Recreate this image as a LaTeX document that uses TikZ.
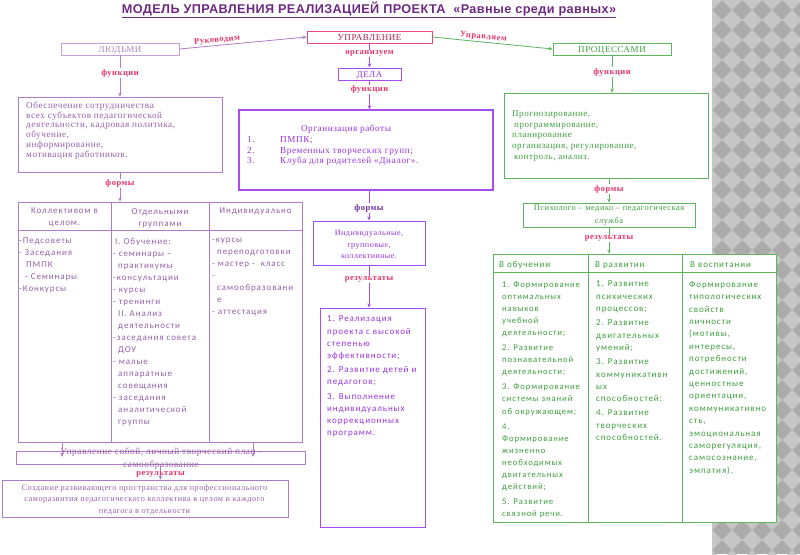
\documentclass[tikz,border=0pt]{standalone}
\usepackage{fontspec}
\setmainfont{Liberation Serif}
\newfontfamily\fser[LetterSpace=6]{Liberation Serif}
\newfontfamily\fcal[LetterSpace=10]{Carlito}
\newfontfamily\fari[LetterSpace=3]{Liberation Sans}
\usetikzlibrary{arrows.meta,fit}
\definecolor{ctitle}{HTML}{6E2A80}
\definecolor{cpink}{HTML}{E8336A}
\definecolor{cupr}{HTML}{E8467C}
\definecolor{cuprt}{HTML}{A81E4E}
\definecolor{lpb}{HTML}{C8A0D8}
\definecolor{lpt}{HTML}{A888B8}
\definecolor{pb}{HTML}{B07CC6}
\definecolor{ptx}{HTML}{9560AA}
\definecolor{vb}{HTML}{A64DF0}
\definecolor{vt}{HTML}{9A34E0}
\definecolor{vform}{HTML}{7030A0}
\definecolor{gb}{HTML}{5DB55D}
\definecolor{gt}{HTML}{3E9E3E}
\definecolor{bgd}{HTML}{ABABAB}
\definecolor{bgl}{HTML}{C6C6C6}
\begin{document}
\begin{tikzpicture}[x=1pt,y=-1pt,
  box/.style={draw, inner sep=0pt, line width=0.8pt},
  lab/.style={font=\fser\bfseries\fontsize{8.5}{9}\selectfont, text=cpink, fill=white, inner sep=0.8pt},
  arr/.style={line width=0.8pt, -{Stealth[length=4pt,width=3.5pt]}},
  stxt/.style={font=\fser\fontsize{9.2}{9.8}\selectfont, align=left, inner sep=0pt, anchor=north west},
  boxtxt/.style={font=\fser\fontsize{9}{10}\selectfont, inner sep=0pt, yshift=-1pt},
]
\useasboundingbox (0,0) rectangle (800,554);
\fill[white] (0,0) rectangle (800,554);
\begin{scope}
\clip (712,0) rectangle (800,554);
\fill[bgd] (712,0) rectangle (800,554);
\foreach \i in {0,...,5}{\foreach \j in {0,...,28}{
  \fill[bgl] ({702+20*\i},{20*\j}) -- ({712+20*\i},{20*\j-10}) -- ({722+20*\i},{20*\j}) -- ({712+20*\i},{20*\j+10}) -- cycle;}}
\end{scope}

% title
\node[font=\fari\bfseries\fontsize{12.7}{14}\selectfont, text=ctitle, inner sep=0pt] (title) at (369,10) {\underline{МОДЕЛЬ УПРАВЛЕНИЯ РЕАЛИЗАЦИЕЙ ПРОЕКТА \ «Равные среди равных»}};

% top boxes
\node[box, draw=cupr, fit={(307,31)(432,43)}] (upr) {};
\node[boxtxt, text=cuprt] (uprt) at (upr.center) {УПРАВЛЕНИЕ};
\node[box, draw=lpb, fit={(61,43)(179,55)}] (ludi) {};
\node[boxtxt, text=lpt] (ludit) at (ludi.center) {ЛЮДЬМИ};
\node[box, draw=gb, fit={(553,43)(671,55)}] (proc) {};
\node[boxtxt, text=gt] (proct) at (proc.center) {ПРОЦЕССАМИ};
\node[box, draw=vb, line width=1pt, fit={(338,68)(401,80)}] (dela) {};
\node[boxtxt, text=vt] (delat) at (dela.center) {ДЕЛА};

% function boxes
\node[box, draw=pb, fit={(18,97)(222,172)}] (fbox) {};
\node[stxt, text=ptx] (ftext) at (26,101.5) {Обеспечение сотрудничества\\всех субъектов педагогической\\деятельности, кадровая политика,\\обучение,\\информирование,\\мотивация работников.};

\node[box, draw=vb, line width=1.3pt, fit={(239,110)(493,190)}] (mbox) {};
\node[font=\fser\fontsize{9.2}{10}\selectfont, text=vt, inner sep=0pt] (mtitle) at (346,129) {Организация работы};
\node[stxt, text=vt, font=\fser\fontsize{9.2}{10.5}\selectfont] (mlist) at (247,136.5) {\makebox[33pt][l]{1.}ПМПК;\\\makebox[33pt][l]{2.}Временных творческих групп;\\\makebox[33pt][l]{3.}Клуба для родителей «Диалог».};

\node[box, draw=gb, fit={(504,93)(708,178)}] (gbox) {};
\node[stxt, text=gt, font=\fser\fontsize{9}{10.7}\selectfont] (gtext) at (512,110.5) {Прогнозирование,\\\hspace*{2pt}программирование,\\планирование\\организация, регулирование,\\\hspace*{2pt}контроль, анализ.};

\node[box, draw=gb, fit={(523,203)(695,227)}] (psych) {};
\node[font=\fser\fontsize{8.4}{13}\selectfont, text=gt, align=center, inner sep=0pt] (ptext) at (609,215.5) {Психолого – медико – педагогическая\\служба};

% left table
\node[box, draw=pb, fit={(18,202)(302,442)}] (ltab) {};
\draw[pb, line width=0.8pt] (18,230) -- (302,230) (111,202) -- (111,442) (209,202) -- (209,442);
\begin{scope}[every node/.style={font=\fcal\fontsize{9}{12}\selectfont, text=ptx, inner sep=0pt}]
\node[align=center, anchor=north] (lh1) at (64.5,208) {Коллективом в\\целом.};
\node[align=center, anchor=north] (lh2) at (160,208) {Отдельными\\группами};
\node[align=center, anchor=north] (lh3) at (255.5,208) {Индивидуально};
\node[align=left, anchor=north west] (lc1) at (19,238) {-Педсоветы\\- Заседания\\\hspace*{7pt}ПМПК\\\hspace*{6pt}- Семинары\\-Конкурсы};
\node[align=left, anchor=north west] (lc2) at (113,238) {\hspace*{2pt}I. Обучение:\\- семинары –\\\hspace*{5pt}практикумы\\-консультации\\- курсы\\- тренинги\\\hspace*{5pt}II. Анализ\\\hspace*{5pt}деятельности\\-заседания совета\\\hspace*{5pt}ДОУ\\- малые\\\hspace*{5pt}аппаратные\\\hspace*{5pt}совещания\\- заседания\\\hspace*{5pt}аналитической\\\hspace*{5pt}группы};
\node[align=left, anchor=north west] (lc3) at (212,238) {-курсы\\\hspace*{5pt}переподготовки\\- мастер - \ класс\\-\\\hspace*{5pt}самообразовани\\\hspace*{5pt}е\\- аттестация};
\end{scope}

% self box and final box
\node[box, draw=pb, fit={(16,451)(305,464)}] (self) {};
\node[font=\fser\fontsize{9.3}{13}\selectfont, text=ptx, align=center, inner sep=0pt] (stext) at (161,458.5) {Управление собой, личный творческий план -\\самообразование};
\node[box, draw=pb, fit={(2,480)(288,517)}] (final) {};
\node[font=\fser\fontsize{8.25}{11.5}\selectfont, text=ptx, align=center, inner sep=0pt] (finalt) at (144.5,499.5) {Создание развивающего пространства для профессионального\\саморазвития педагогического коллектива в целом и каждого\\педагога в отдельности};

% middle lower
\node[box, draw=vb, line width=1pt, fit={(313,221)(425,265)}] (ibox) {};
\node[font=\fser\fontsize{8.1}{11.5}\selectfont, text=vt, align=center, inner sep=0pt] (iboxt) at (369,244.5) {Индивидуальные,\\групповые,\\коллективные.};
\node[box, draw=vb, line width=1pt, fit={(320,308)(425,527)}] (rbox) {};
\node[align=left, anchor=north west, inner sep=0pt, text=vt, font=\fcal\fontsize{9}{12.2}\selectfont] (rtext) at (327,316) {1. Реализация\\проекта с высокой\\степенью\\эффективности;\\[2pt]2. Развитие детей и\\педагогов;\\[2pt]3. Выполнение\\индивидуальных\\коррекционных\\программ.};

% green table
\node[box, draw=gb, fill=white, fit={(493,254)(776,522)}] (gtab) {};
\draw[gb, line width=0.8pt] (493,272) -- (776,272) (588,254) -- (588,522) (682,254) -- (682,522);
\begin{scope}[every node/.style={font=\fcal\fontsize{9}{12.3}\selectfont, text=gt, inner sep=0pt}]
\node[anchor=west] (gh1) at (499,265) {В обучении};
\node[anchor=west] (gh2) at (595,265) {В развитии};
\node[anchor=west] (gh3) at (690,265) {В воспитании};
\node[align=left, anchor=north west, font=\fcal\fontsize{8.7}{12.1}\selectfont] (gc1) at (502,281) {1. Формирование\\оптимальных\\навыков\\учебной\\деятельности;\\[3pt]2. Развитие\\познавательной\\деятельности;\\[3pt]3. Формирование\\системы знаний\\об окружающем;\\[3pt]4.\\Формирование\\жизненно\\необходимых\\двигательных\\действий;\\[3pt]5. Развитие\\связной речи.};
\node[align=left, anchor=north west] (gc2) at (596,281) {1. Развитие\\психических\\процессов;\\[2pt]2. Развитие\\двигательных\\умений;\\[2pt]3. Развитие\\коммуникативн\\ых\\способностей:\\[2pt]4. Развитие\\творческих\\способностей.};
\node[align=left, anchor=north west, font=\fcal\fontsize{9}{12.4}\selectfont] (gc3) at (689,281) {Формирование\\типологических\\свойств\\личности\\(мотивы,\\интересы,\\потребности\\достижений,\\ценностные\\ориентации,\\коммуникативно\\сть,\\эмоциональная\\саморегуляция,\\самосознание,\\эмпатия).};
\end{scope}

% connectors
\draw[arr, draw=pb] (ludi.east) -- (upr.west) node[lab, fill=none, sloped, above, pos=0.3, inner sep=1pt] {Руководим};
\draw[arr, draw=gb] (upr.east) -- (proc.west) node[lab, fill=none, sloped, above, pos=0.42, inner sep=1pt] {Управляем};
\draw[arr, draw=vb] (upr.south) -- (upr.south |- dela.north) node[lab, pos=0.42] {организуем};
\draw[arr, draw=vb] (dela.south) -- (dela.south |- mbox.north) node[lab, pos=0.32] {функции};
\draw[arr, draw=pb] (ludi.south) -- (ludi.south |- fbox.north) node[lab, pos=0.43] {функции};
\draw[arr, draw=pb] (fbox.south) -- (fbox.south |- ltab.north) node[lab, pos=0.37] {формы};
\draw[arr, draw=gb] (proc.south) -- (proc.south |- gbox.north) node[lab, pos=0.45] {функции};
\draw[arr, draw=gb] (psych.north |- gbox.south) -- (psych.north) node[lab, pos=0.44] {формы};
\draw[arr, draw=gb] (psych.south) -- (psych.south |- gtab.north) node[lab, pos=0.42] {результаты};
\draw[arr, draw=vb] (ibox.north |- mbox.south) -- (ibox.north) node[lab, text=vform, pos=0.58] {формы};
\draw[arr, draw=vb] (ibox.south) -- (ibox.south |- rbox.north) node[lab, pos=0.33] {результаты};
\coordinate (s1) at (62,457);
\coordinate (s2) at (253,457);
\draw[arr, draw=pb] (ltab.south -| s1) -- (s1);
\draw[arr, draw=pb] (ltab.south -| s2) -- (s2);
\draw[arr, draw=pb] (self.south) -- (self.south |- final.north) node[lab, pos=0.68, fill=none] {результаты};
\end{tikzpicture}
\end{document}
